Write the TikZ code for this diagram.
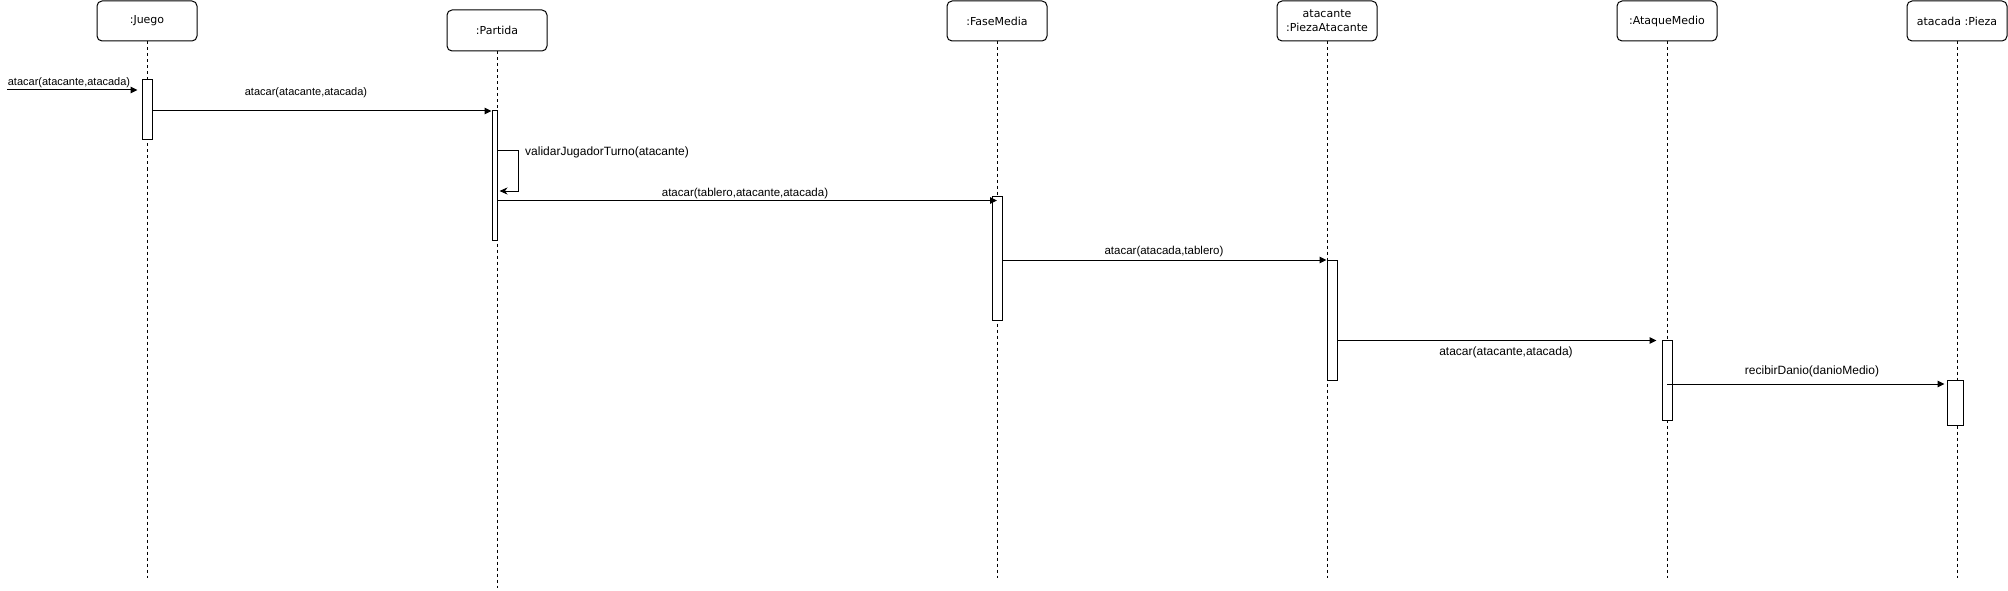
\documentclass[tikz,border=0pt]{standalone}
\usepackage{fontspec}
\setmainfont{Liberation Sans}
\newfontfamily\boxfont{DejaVu Sans}
\usetikzlibrary{arrows.meta}
\tikzset{
  obj/.style={draw, rounded corners=5pt, minimum width=100pt, minimum height=40pt, inner sep=0pt, font=\boxfont\fontsize{11}{14}\selectfont, align=center, line width=1pt},
  actbox/.style={draw, fill=white, inner sep=0pt, line width=1pt},
  life/.style={dash pattern=on 3pt off 3pt, line width=0.8pt},
  msg/.style={line width=1pt, -{Triangle[length=7pt,width=6.5pt]}},
  selfmsg/.style={line width=1pt, -{Stealth[length=8pt,width=7pt,inset=2.5pt]}},
  lbl/.style={inner sep=0pt, font=\fontsize{11.5}{13}\selectfont}
}
\begin{document}
\begin{tikzpicture}[x=1pt,y=-1pt]
\useasboundingbox (0,0) rectangle (2008,591);
% objects
\node[obj] (juego) at (147,21) {:Juego};
\node[obj, minimum height=41pt] (partida) at (497,30.5) {:Partida};
\node[obj] (fase) at (997,21) {:FaseMedia};
\node[obj] (pza) at (1327,21) {atacante\\:PiezaAtacante};
\node[obj] (ataque) at (1667,21) {:AtaqueMedio};
\node[obj] (pieza) at (1957,21) {atacada :Pieza};
% lifeline ends
\coordinate (ejuego) at (147,578);
\coordinate (epartida) at (497,588);
\coordinate (efase) at (997,578);
\coordinate (epza) at (1327,578);
\coordinate (eataque) at (1667,578);
\coordinate (epieza) at (1957,578);
\draw[life] (juego.south) -- (ejuego);
\draw[life] (partida.south) -- (epartida);
\draw[life] (fase.south) -- (efase);
\draw[life] (pza.south) -- (epza);
\draw[life] (ataque.south) -- (eataque);
\draw[life] (pieza.south) -- (epieza);
% activations
\node[actbox, minimum width=10pt, minimum height=60pt] (actJ) at (147,110) {};
\node[actbox, minimum width=5pt, minimum height=129pt] (actP) at (494.5,175.5) {};
\node[actbox, minimum width=10pt, minimum height=124pt] (actF) at (997,258) {};
\node[actbox, minimum width=10pt, minimum height=120pt] (actA) at (1332,320) {};
\node[actbox, minimum width=10pt, minimum height=80pt] (actM) at (1667,380) {};
\node[actbox, minimum width=16pt, minimum height=45pt] (actPz) at (1955,402.5) {};
% found message
\coordinate (found) at (7,90);
\draw[msg] (found) -- ([xshift=-4pt]actJ.west |- found);
\node[lbl, font=\fontsize{11}{13}\selectfont] (l1) at (69,83) {atacar(atacante,atacada)};
% Juego -> Partida
\draw[msg] (actJ.east |- 0,111) -- (actP.west |- 0,111);
\node[lbl, font=\fontsize{11}{13}\selectfont] (l2) at (306,93) {atacar(atacante,atacada)};
% self message
\coordinate (s1) at (518,151);
\coordinate (s2) at (518,191);
\draw[selfmsg] (actP.east |- s1) -- (s1) -- (s2) -- ([xshift=2pt]actP.east |- s2);
\node[lbl, anchor=west, font=\fontsize{12}{14}\selectfont] (l3) at (525,152) {validarJugadorTurno(atacante)};
% Partida -> FaseMedia
\draw[msg] (actP.east |- 0,200.5) -- (fase.south |- 0,200.5);
\node[lbl] (l4) at (745,194) {atacar(tablero,atacante,atacada)};
% FaseMedia -> PiezaAtacante
\draw[msg] (actF.east |- 0,260) -- (actA.west |- 0,260);
\node[lbl] (l5) at (1164,252) {atacar(atacada,tablero)};
% PiezaAtacante -> AtaqueMedio
\draw[msg] (actA.east |- 0,340.5) -- ([xshift=-5pt]actM.west |- 0,340.5);
\node[lbl, font=\fontsize{12}{14}\selectfont] (l6) at (1506,352) {atacar(atacante,atacada)};
% AtaqueMedio -> Pieza
\draw[msg] (actM.center |- 0,384) -- ([xshift=-2pt]actPz.west |- 0,384);
\node[lbl, font=\fontsize{12}{14}\selectfont] (l7) at (1812,371) {recibirDanio(danioMedio)};
\end{tikzpicture}
\end{document}
